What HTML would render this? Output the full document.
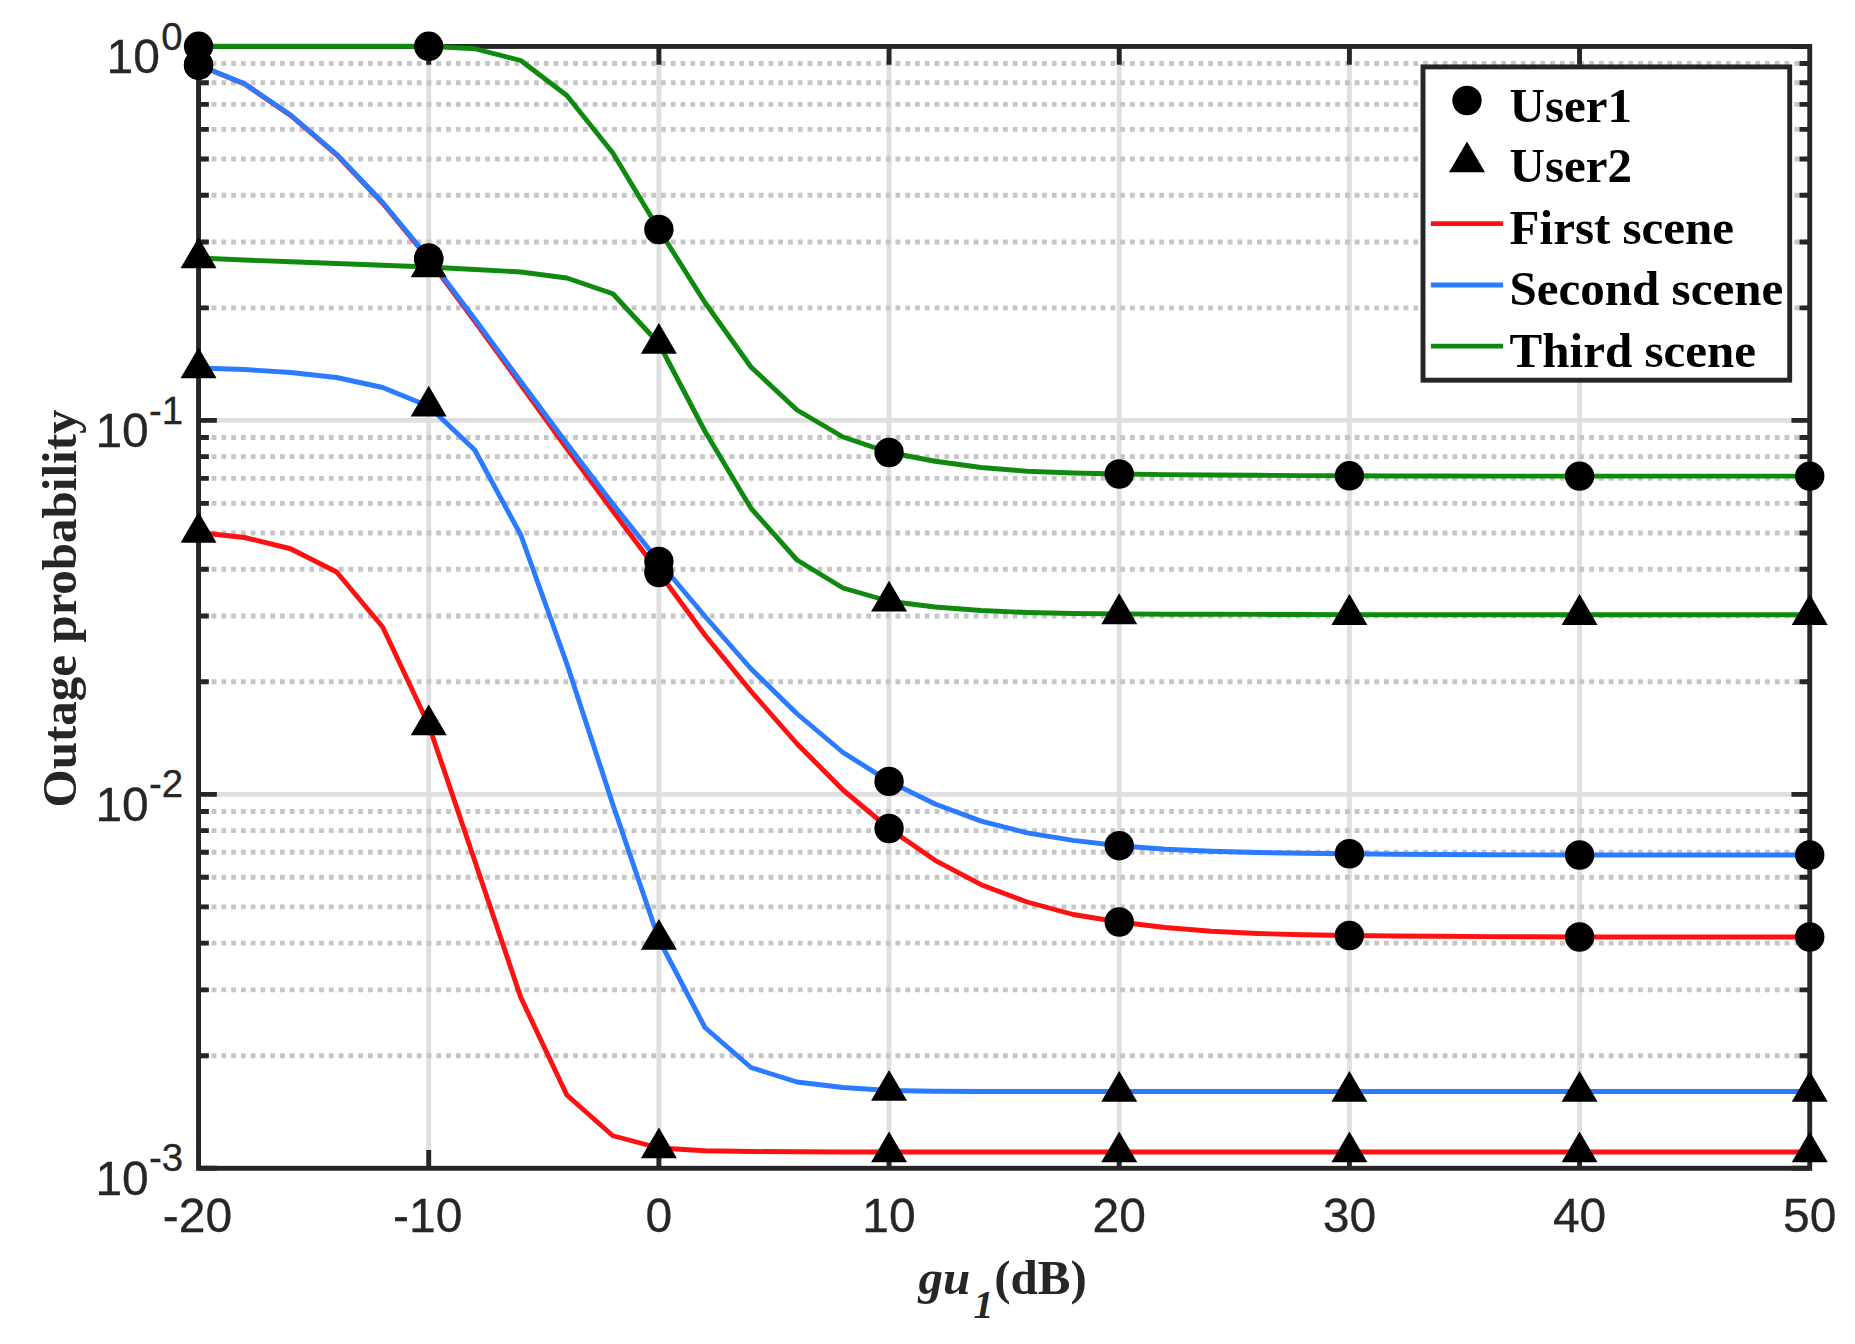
<!DOCTYPE html>
<html><head><meta charset="utf-8"><title>Outage probability</title>
<style>
html,body{margin:0;padding:0;background:#fff}
body{width:1855px;height:1344px;overflow:hidden}
svg{display:block}
.t{font-family:"Liberation Sans",Arial,Helvetica,sans-serif;fill:#262626}
.s{font-family:"Liberation Serif","Times New Roman",Times,serif;font-weight:bold}
</style></head><body>
<svg width="1855" height="1344" viewBox="0 0 1855 1344">
<rect width="1855" height="1344" fill="#fff"/>
<g stroke="#dfdfdf" stroke-width="4.9" fill="none">
<path d="M428.72 46.45V1168.30"/>
<path d="M658.89 46.45V1168.30"/>
<path d="M889.06 46.45V1168.30"/>
<path d="M1119.23 46.45V1168.30"/>
<path d="M1349.40 46.45V1168.30"/>
<path d="M1579.57 46.45V1168.30"/>
<path d="M198.55 420.40H1809.74"/>
<path d="M198.55 794.35H1809.74"/>
</g>
<g stroke="#c6c6c6" stroke-width="4.9" fill="none" stroke-dasharray="4.8 4.97" stroke-dashoffset="-3.30">
<path d="M198.55 307.83H1809.74"/>
<path d="M198.55 241.98H1809.74"/>
<path d="M198.55 195.26H1809.74"/>
<path d="M198.55 159.02H1809.74"/>
<path d="M198.55 129.41H1809.74"/>
<path d="M198.55 104.38H1809.74"/>
<path d="M198.55 82.69H1809.74"/>
<path d="M198.55 63.56H1809.74"/>
<path d="M198.55 681.78H1809.74"/>
<path d="M198.55 615.93H1809.74"/>
<path d="M198.55 569.21H1809.74"/>
<path d="M198.55 532.97H1809.74"/>
<path d="M198.55 503.36H1809.74"/>
<path d="M198.55 478.33H1809.74"/>
<path d="M198.55 456.64H1809.74"/>
<path d="M198.55 437.51H1809.74"/>
<path d="M198.55 1055.73H1809.74"/>
<path d="M198.55 989.88H1809.74"/>
<path d="M198.55 943.16H1809.74"/>
<path d="M198.55 906.92H1809.74"/>
<path d="M198.55 877.31H1809.74"/>
<path d="M198.55 852.28H1809.74"/>
<path d="M198.55 830.59H1809.74"/>
<path d="M198.55 811.46H1809.74"/>
</g>
<g stroke="#262626" stroke-width="4.9" fill="none" stroke-linecap="butt">
<path d="M428.72 1168.30v-18.3M428.72 46.45v18.3"/>
<path d="M658.89 1168.30v-18.3M658.89 46.45v18.3"/>
<path d="M889.06 1168.30v-18.3M889.06 46.45v18.3"/>
<path d="M1119.23 1168.30v-18.3M1119.23 46.45v18.3"/>
<path d="M1349.40 1168.30v-18.3M1349.40 46.45v18.3"/>
<path d="M1579.57 1168.30v-18.3M1579.57 46.45v18.3"/>
<path d="M198.55 46.45h18.3M1809.74 46.45h-18.3"/>
<path d="M198.55 420.40h18.3M1809.74 420.40h-18.3"/>
<path d="M198.55 794.35h18.3M1809.74 794.35h-18.3"/>
<path d="M198.55 1168.30h18.3M1809.74 1168.30h-18.3"/>
<path d="M198.55 307.83h10.3M1809.74 307.83h-10.3"/>
<path d="M198.55 241.98h10.3M1809.74 241.98h-10.3"/>
<path d="M198.55 195.26h10.3M1809.74 195.26h-10.3"/>
<path d="M198.55 159.02h10.3M1809.74 159.02h-10.3"/>
<path d="M198.55 129.41h10.3M1809.74 129.41h-10.3"/>
<path d="M198.55 104.38h10.3M1809.74 104.38h-10.3"/>
<path d="M198.55 82.69h10.3M1809.74 82.69h-10.3"/>
<path d="M198.55 63.56h10.3M1809.74 63.56h-10.3"/>
<path d="M198.55 681.78h10.3M1809.74 681.78h-10.3"/>
<path d="M198.55 615.93h10.3M1809.74 615.93h-10.3"/>
<path d="M198.55 569.21h10.3M1809.74 569.21h-10.3"/>
<path d="M198.55 532.97h10.3M1809.74 532.97h-10.3"/>
<path d="M198.55 503.36h10.3M1809.74 503.36h-10.3"/>
<path d="M198.55 478.33h10.3M1809.74 478.33h-10.3"/>
<path d="M198.55 456.64h10.3M1809.74 456.64h-10.3"/>
<path d="M198.55 437.51h10.3M1809.74 437.51h-10.3"/>
<path d="M198.55 1055.73h10.3M1809.74 1055.73h-10.3"/>
<path d="M198.55 989.88h10.3M1809.74 989.88h-10.3"/>
<path d="M198.55 943.16h10.3M1809.74 943.16h-10.3"/>
<path d="M198.55 906.92h10.3M1809.74 906.92h-10.3"/>
<path d="M198.55 877.31h10.3M1809.74 877.31h-10.3"/>
<path d="M198.55 852.28h10.3M1809.74 852.28h-10.3"/>
<path d="M198.55 830.59h10.3M1809.74 830.59h-10.3"/>
<path d="M198.55 811.46h10.3M1809.74 811.46h-10.3"/>
<rect x="198.55" y="46.45" width="1611.19" height="1121.85" stroke-linejoin="miter"/>
</g>
<polyline points="198.55,65.20 244.58,84.00 290.62,115.40 336.65,154.80 382.69,203.20 428.72,259.30 474.75,321.20 520.79,384.80 566.82,448.50 612.86,511.00 658.89,572.50 704.92,635.00 750.96,691.25 796.99,743.75 843.03,790.00 889.06,828.50 935.09,860.30 981.13,884.70 1027.16,902.00 1073.20,914.50 1119.23,922.00 1165.26,927.50 1211.30,931.25 1257.33,933.50 1303.37,934.75 1349.40,935.50 1395.43,936.00 1441.47,936.30 1487.50,936.60 1533.54,936.80 1579.57,937.00 1625.60,937.00 1671.64,937.00 1717.67,937.00 1763.71,937.00 1809.74,937.00" fill="none" stroke="#ff1111" stroke-width="4.9" stroke-linejoin="round"/>
<polyline points="198.55,532.50 244.58,537.50 290.62,548.75 336.65,572.00 382.69,627.00 428.72,725.00 474.75,860.75 520.79,997.50 566.82,1095.00 612.86,1135.75 658.89,1148.00 704.92,1150.75 750.96,1151.50 796.99,1151.80 843.03,1152.00 889.06,1152.00 935.09,1152.00 981.13,1152.00 1027.16,1152.00 1073.20,1152.00 1119.23,1152.00 1165.26,1152.00 1211.30,1152.00 1257.33,1152.00 1303.37,1152.00 1349.40,1152.00 1395.43,1152.00 1441.47,1152.00 1487.50,1152.00 1533.54,1152.00 1579.57,1152.00 1625.60,1152.00 1671.64,1152.00 1717.67,1152.00 1763.71,1152.00 1809.74,1152.00" fill="none" stroke="#ff1111" stroke-width="4.9" stroke-linejoin="round"/>
<polyline points="198.55,65.00 244.58,83.75 290.62,115.00 336.65,154.25 382.69,202.50 428.72,258.00 474.75,319.00 520.79,381.50 566.82,443.50 612.86,504.00 658.89,561.50 704.92,616.25 750.96,668.75 796.99,713.75 843.03,752.50 889.06,781.40 935.09,804.00 981.13,821.10 1027.16,832.80 1073.20,840.40 1119.23,845.70 1165.26,849.25 1211.30,851.25 1257.33,852.50 1303.37,853.25 1349.40,853.75 1395.43,854.20 1441.47,854.50 1487.50,854.70 1533.54,854.90 1579.57,855.00 1625.60,855.00 1671.64,855.00 1717.67,855.00 1763.71,855.00 1809.74,855.00" fill="none" stroke="#2a7bff" stroke-width="4.9" stroke-linejoin="round"/>
<polyline points="198.55,368.00 244.58,369.50 290.62,372.50 336.65,377.50 382.69,387.50 428.72,406.25 474.75,450.00 520.79,535.00 566.82,663.75 612.86,804.50 658.89,939.50 704.92,1027.50 750.96,1067.50 796.99,1082.00 843.03,1087.50 889.06,1090.50 935.09,1091.20 981.13,1091.50 1027.16,1091.50 1073.20,1091.50 1119.23,1091.50 1165.26,1091.50 1211.30,1091.50 1257.33,1091.50 1303.37,1091.50 1349.40,1091.50 1395.43,1091.50 1441.47,1091.50 1487.50,1091.50 1533.54,1091.50 1579.57,1091.50 1625.60,1091.50 1671.64,1091.50 1717.67,1091.50 1763.71,1091.50 1809.74,1091.50" fill="none" stroke="#2a7bff" stroke-width="4.9" stroke-linejoin="round"/>
<polyline points="198.55,46.30 244.58,46.30 290.62,46.30 336.65,46.30 382.69,46.30 428.72,46.30 474.75,48.75 520.79,60.50 566.82,95.50 612.86,153.00 658.89,229.50 704.92,302.50 750.96,367.00 796.99,410.00 843.03,437.00 889.06,452.50 935.09,461.25 981.13,467.50 1027.16,471.25 1073.20,473.00 1119.23,474.00 1165.26,474.60 1211.30,475.00 1257.33,475.30 1303.37,475.60 1349.40,475.80 1395.43,476.00 1441.47,476.00 1487.50,476.10 1533.54,476.10 1579.57,476.10 1625.60,476.10 1671.64,476.10 1717.67,476.10 1763.71,476.10 1809.74,476.10" fill="none" stroke="#0f8a0f" stroke-width="4.9" stroke-linejoin="round"/>
<polyline points="198.55,258.00 244.58,260.00 290.62,261.75 336.65,263.50 382.69,265.25 428.72,267.00 474.75,269.50 520.79,272.00 566.82,278.00 612.86,293.75 658.89,343.50 704.92,431.25 750.96,508.25 796.99,560.00 843.03,588.00 889.06,601.25 935.09,607.00 981.13,610.50 1027.16,612.50 1073.20,613.50 1119.23,613.90 1165.26,614.20 1211.30,614.30 1257.33,614.40 1303.37,614.50 1349.40,614.60 1395.43,614.70 1441.47,614.70 1487.50,614.70 1533.54,614.70 1579.57,614.70 1625.60,614.70 1671.64,614.70 1717.67,614.70 1763.71,614.70 1809.74,614.70" fill="none" stroke="#0f8a0f" stroke-width="4.9" stroke-linejoin="round"/>
<g fill="#000">
<path d="M198.55 511.90L216.55 542.80L180.55 542.80Z"/>
<path d="M198.55 347.40L216.55 378.30L180.55 378.30Z"/>
<path d="M198.55 237.40L216.55 268.30L180.55 268.30Z"/>
<circle cx="198.55" cy="65.20" r="14.7"/>
<circle cx="198.55" cy="65.00" r="14.7"/>
<circle cx="198.55" cy="46.30" r="14.7"/>
<path d="M428.72 704.40L446.72 735.30L410.72 735.30Z"/>
<path d="M428.72 385.65L446.72 416.55L410.72 416.55Z"/>
<path d="M428.72 246.40L446.72 277.30L410.72 277.30Z"/>
<circle cx="428.72" cy="259.30" r="14.7"/>
<circle cx="428.72" cy="258.00" r="14.7"/>
<circle cx="428.72" cy="46.30" r="14.7"/>
<path d="M658.89 1127.40L676.89 1158.30L640.89 1158.30Z"/>
<path d="M658.89 918.90L676.89 949.80L640.89 949.80Z"/>
<path d="M658.89 322.90L676.89 353.80L640.89 353.80Z"/>
<circle cx="658.89" cy="572.50" r="14.7"/>
<circle cx="658.89" cy="561.50" r="14.7"/>
<circle cx="658.89" cy="229.50" r="14.7"/>
<path d="M889.06 1131.40L907.06 1162.30L871.06 1162.30Z"/>
<path d="M889.06 1069.90L907.06 1100.80L871.06 1100.80Z"/>
<path d="M889.06 580.65L907.06 611.55L871.06 611.55Z"/>
<circle cx="889.06" cy="828.50" r="14.7"/>
<circle cx="889.06" cy="781.40" r="14.7"/>
<circle cx="889.06" cy="452.50" r="14.7"/>
<path d="M1119.23 1131.40L1137.23 1162.30L1101.23 1162.30Z"/>
<path d="M1119.23 1070.90L1137.23 1101.80L1101.23 1101.80Z"/>
<path d="M1119.23 593.30L1137.23 624.20L1101.23 624.20Z"/>
<circle cx="1119.23" cy="922.00" r="14.7"/>
<circle cx="1119.23" cy="845.70" r="14.7"/>
<circle cx="1119.23" cy="474.00" r="14.7"/>
<path d="M1349.40 1131.40L1367.40 1162.30L1331.40 1162.30Z"/>
<path d="M1349.40 1070.90L1367.40 1101.80L1331.40 1101.80Z"/>
<path d="M1349.40 594.00L1367.40 624.90L1331.40 624.90Z"/>
<circle cx="1349.40" cy="935.50" r="14.7"/>
<circle cx="1349.40" cy="853.75" r="14.7"/>
<circle cx="1349.40" cy="475.80" r="14.7"/>
<path d="M1579.57 1131.40L1597.57 1162.30L1561.57 1162.30Z"/>
<path d="M1579.57 1070.90L1597.57 1101.80L1561.57 1101.80Z"/>
<path d="M1579.57 594.10L1597.57 625.00L1561.57 625.00Z"/>
<circle cx="1579.57" cy="937.00" r="14.7"/>
<circle cx="1579.57" cy="855.00" r="14.7"/>
<circle cx="1579.57" cy="476.10" r="14.7"/>
<path d="M1809.74 1131.40L1827.74 1162.30L1791.74 1162.30Z"/>
<path d="M1809.74 1070.90L1827.74 1101.80L1791.74 1101.80Z"/>
<path d="M1809.74 594.10L1827.74 625.00L1791.74 625.00Z"/>
<circle cx="1809.74" cy="937.00" r="14.7"/>
<circle cx="1809.74" cy="855.00" r="14.7"/>
<circle cx="1809.74" cy="476.10" r="14.7"/>
</g>
<g class="t" font-size="48" text-anchor="middle" stroke="#262626" stroke-width="0.3">
<text transform="translate(197.55 1232.2) scale(1 1.015)">-20</text>
<text transform="translate(427.72 1232.2) scale(1 1.015)">-10</text>
<text transform="translate(658.89 1232.2) scale(1 1.015)">0</text>
<text transform="translate(889.06 1232.2) scale(1 1.015)">10</text>
<text transform="translate(1119.23 1232.2) scale(1 1.015)">20</text>
<text transform="translate(1349.40 1232.2) scale(1 1.015)">30</text>
<text transform="translate(1579.57 1232.2) scale(1 1.015)">40</text>
<text transform="translate(1809.74 1232.2) scale(1 1.015)">50</text>
</g>
<g class="t" stroke="#262626" stroke-width="0.3">
<text transform="translate(160.0 73.25) scale(1 1.015)" text-anchor="end" font-size="48">10</text><text transform="translate(161.2 49.55) scale(1 1.015)" font-size="38.4">0</text>
<text transform="translate(148.8 447.20) scale(1 1.015)" text-anchor="end" font-size="48">10</text><text transform="translate(149.0 423.50) scale(1 1.015)" font-size="38.4">-1</text>
<text transform="translate(148.8 821.15) scale(1 1.015)" text-anchor="end" font-size="48">10</text><text transform="translate(149.0 797.45) scale(1 1.015)" font-size="38.4">-2</text>
<text transform="translate(148.8 1195.10) scale(1 1.015)" text-anchor="end" font-size="48">10</text><text transform="translate(149.0 1171.40) scale(1 1.015)" font-size="38.4">-3</text>
</g>
<text class="s" font-size="49" fill="#262626" text-anchor="middle" transform="translate(76 608.5) rotate(-90)">Outage probability</text>
<text class="s" font-size="49" fill="#262626" x="918.5" y="1293.6"><tspan font-style="italic">gu</tspan><tspan font-style="italic" font-size="40" x="973.5" y="1318.2">1</tspan><tspan x="994.3" y="1293.6">(dB)</tspan></text>
<rect x="1423.0" y="66.9" width="366.70" height="313.30" fill="#fff" stroke="#262626" stroke-width="4.9"/>
<g fill="#000"><circle cx="1467.00" cy="100.50" r="14.7"/><path d="M1467.00 141.40L1485.00 172.30L1449.00 172.30Z"/></g>
<path d="M1430.9 223.6H1503.1" stroke="#ff1111" stroke-width="4.9"/>
<path d="M1430.9 285H1503.1" stroke="#2a7bff" stroke-width="4.9"/>
<path d="M1430.9 346.1H1503.1" stroke="#0f8a0f" stroke-width="4.9"/>
<g class="s" font-size="49" fill="#000">
<text x="1509.6" y="121.7">User1</text>
<text x="1509.6" y="182.3">User2</text>
<text x="1509.6" y="244.2">First scene</text>
<text x="1509.6" y="304.8">Second scene</text>
<text x="1509.6" y="367.3">Third scene</text>
</g>
</svg></body></html>
